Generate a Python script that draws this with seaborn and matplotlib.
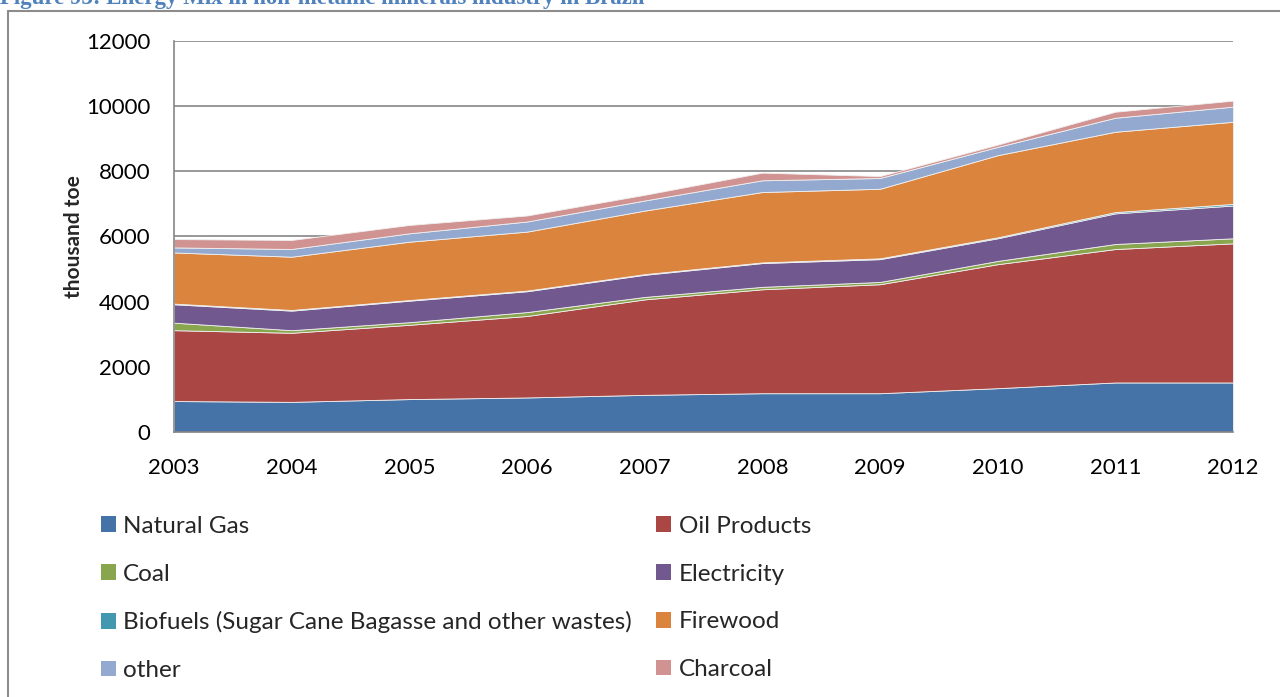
import numpy as np
import pandas as pd
import matplotlib
matplotlib.use("Agg")
import matplotlib.pyplot as plt
import seaborn as sns
from matplotlib.patches import Patch
from matplotlib.lines import Line2D

# data (thousand toe)
years = [2003, 2004, 2005, 2006, 2007, 2008, 2009, 2010, 2011, 2012]
natural_gas = [950, 925, 1010, 1060, 1140, 1190, 1190, 1345, 1520, 1520]
oil_products = [2175, 2120, 2280, 2500, 2930, 3190, 3345, 3805, 4095, 4270]
coal = [230, 80, 80, 120, 75, 75, 70, 100, 155, 155]
electricity = [565, 600, 660, 640, 680, 730, 700, 695, 940, 1005]
biofuels = [20, 20, 20, 20, 20, 20, 25, 30, 40, 50]
firewood = [1570, 1635, 1790, 1810, 1950, 2160, 2135, 2520, 2465, 2520]
other = [155, 237, 257, 310, 310, 360, 330, 255, 430, 465]
charcoal = [256, 277, 257, 185, 175, 235, 60, 70, 185, 185]

series = ["Natural Gas", "Oil Products", "Coal", "Electricity",
          "Biofuels (Sugar Cane Bagasse and other wastes)", "Firewood",
          "other", "Charcoal"]
colors = ["#4572A7", "#AA4643", "#89A54E", "#71588F",
          "#4198AF", "#DB843D", "#93A9CF", "#D19392"]

df = pd.DataFrame({
    "year": years,
    series[0]: natural_gas,
    series[1]: oil_products,
    series[2]: coal,
    series[3]: electricity,
    series[4]: biofuels,
    series[5]: firewood,
    series[6]: other,
    series[7]: charcoal,
})

sns.set_theme(style="white")
plt.rcParams["font.family"] = ["Lato", "DejaVu Sans"]

fig = plt.figure(figsize=(12.8, 6.97), dpi=100)
ax = fig.add_axes([174 / 1280, 1 - 432 / 697, (1233 - 174) / 1280, (432 - 41) / 697])

ax.stackplot(df["year"], [df[s] for s in series], colors=colors,
             edgecolor="#f0f0f0", linewidth=0.6, zorder=2)

ax.set_xlim(2003, 2012)
ax.set_ylim(0, 12000)
ax.set_yticks(np.arange(0, 12001, 2000))
ax.set_xticks(years)
ax.tick_params(axis="both", length=0, labelsize=16, colors="black")
ax.tick_params(axis="x", pad=19)
ax.tick_params(axis="y", pad=17)
ax.yaxis.grid(True, color="#868686", linewidth=1.2, zorder=0)
ax.set_axisbelow(True)
for side in ["top", "right"]:
    ax.spines[side].set_visible(False)
for side in ["left", "bottom"]:
    ax.spines[side].set_color("#868686")
    ax.spines[side].set_linewidth(1.2)
ax.set_ylabel("thousand toe", fontsize=15, fontweight="bold")
ax.yaxis.set_label_coords((84 - 174) / 1059, 0.5)

# legend, laid out row by row as in the original
order = [0, 2, 4, 6, 1, 3, 5, 7]
handles = [Patch(facecolor=colors[i], edgecolor="none") for i in order]
labels = [series[i] for i in order]
fig.legend(handles, labels, ncol=2, loc="upper left",
           bbox_to_anchor=(79 / 1280, 1 - 494 / 697), frameon=False,
           fontsize=17.5, handlelength=0.62, handleheight=0.62, handletextpad=0.3,
           labelspacing=1.1, columnspacing=1.0)

# title (partly cut off at the top) and outer frame
fig.text(0.0, 1 - 4 / 697, "Figure 93: Energy Mix in non-metallic minerals industry in Brazil",
         family=["Liberation Serif", "DejaVu Serif"], fontweight="bold", fontsize=16.5,
         color="#4F81BD", ha="left", va="baseline")
fig.add_artist(Line2D([8 / 1280, 1.0], [1 - 11 / 697, 1 - 11 / 697],
                      transform=fig.transFigure, color="#8c8c8c", linewidth=1.5))
fig.add_artist(Line2D([8 / 1280, 8 / 1280], [0.0, 1 - 11 / 697],
                      transform=fig.transFigure, color="#8c8c8c", linewidth=1.5))

fig.savefig("out.png", dpi=100)
